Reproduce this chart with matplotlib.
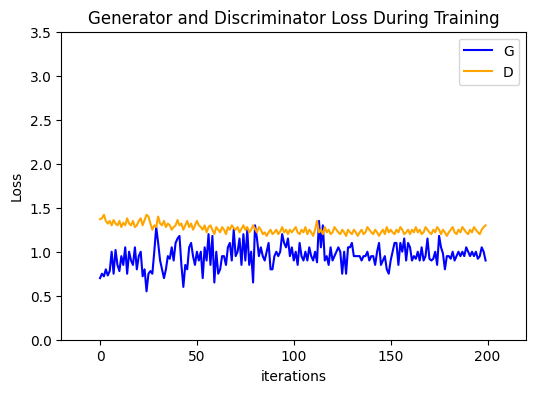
import matplotlib.pyplot as plt

# Generator loss per iteration
G_losses = [
    0.70, 0.75, 0.72, 0.80, 0.73, 0.78, 1.00, 0.75, 1.02, 0.85,
    0.78, 0.95, 0.85, 1.05, 0.75, 1.00, 0.90, 0.85, 1.05, 0.80,
    0.95, 1.00, 0.72, 0.80, 0.55, 0.75, 0.78, 0.75, 1.00, 1.28,
    1.10, 0.90, 0.80, 0.70, 0.80, 0.95, 0.92, 1.05, 0.90, 1.10,
    1.15, 1.18, 0.85, 0.60, 0.85, 0.80, 1.05, 1.10, 0.95, 0.85,
    1.00, 0.90, 1.00, 0.70, 1.05, 0.90, 1.20, 0.85, 1.18, 0.65,
    1.00, 0.75, 0.80, 0.95, 0.95, 0.85, 1.05, 1.10, 0.90, 1.25,
    0.95, 1.00, 1.15, 0.85, 1.20, 0.90, 1.25, 0.85, 1.00, 0.65,
    1.30, 1.15, 0.95, 1.05, 0.95, 0.90, 1.00, 1.10, 0.80, 0.80,
    0.95, 1.00, 0.95, 1.00, 1.20, 1.10, 1.05, 1.15, 0.95, 1.05,
    0.90, 1.00, 0.85, 1.10, 0.95, 0.90, 1.00, 0.90, 1.05, 0.95,
    0.90, 1.00, 0.88, 1.35, 1.05, 1.30, 0.90, 0.95, 0.85, 1.05,
    0.90, 0.95, 1.00, 1.05, 1.00, 0.75, 1.00, 0.75, 1.05, 1.05,
    1.10, 0.95, 0.95, 0.95, 0.95, 0.90, 0.95, 0.95, 1.00, 0.90,
    0.95, 0.95, 0.85, 1.00, 1.10, 0.85, 0.90, 0.95, 0.80, 0.75,
    0.90, 1.00, 1.10, 1.10, 0.85, 1.10, 1.00, 1.15, 0.90, 1.10,
    1.05, 0.90, 0.95, 0.92, 1.00, 0.90, 1.05, 0.90, 0.95, 1.15,
    0.92, 0.90, 0.92, 1.00, 0.85, 1.18, 1.05, 0.98, 0.80, 0.95,
    0.95, 0.92, 1.00, 0.90, 0.95, 1.00, 0.95, 1.00, 0.95, 1.05,
    1.00, 0.95, 1.00, 0.95, 1.00, 0.92, 0.95, 1.05, 1.00, 0.90,
]

# Discriminator loss per iteration
D_losses = [
    1.37, 1.38, 1.42, 1.35, 1.32, 1.35, 1.30, 1.36, 1.32, 1.30,
    1.35, 1.28, 1.33, 1.30, 1.38, 1.32, 1.30, 1.35, 1.28, 1.30,
    1.35, 1.38, 1.30, 1.36, 1.42, 1.40, 1.32, 1.25, 1.30, 1.28,
    1.40, 1.32, 1.30, 1.35, 1.28, 1.32, 1.30, 1.25, 1.28, 1.30,
    1.36, 1.30, 1.32, 1.25, 1.30, 1.35, 1.28, 1.32, 1.25, 1.30,
    1.35, 1.30, 1.28, 1.25, 1.30, 1.22, 1.28, 1.30, 1.25, 1.20,
    1.28, 1.25, 1.22, 1.28, 1.25, 1.20, 1.28, 1.25, 1.30, 1.27,
    1.25, 1.28, 1.22, 1.26, 1.30, 1.25, 1.28, 1.22, 1.25, 1.30,
    1.26, 1.22, 1.28, 1.25, 1.20, 1.22, 1.18, 1.22, 1.25, 1.20,
    1.22, 1.25, 1.20, 1.23, 1.28, 1.22, 1.25, 1.20, 1.25, 1.22,
    1.25, 1.28, 1.22, 1.20, 1.25, 1.22, 1.28, 1.20, 1.25, 1.22,
    1.18, 1.25, 1.35, 1.22, 1.25, 1.20, 1.28, 1.22, 1.25, 1.20,
    1.22, 1.28, 1.25, 1.22, 1.20, 1.25, 1.22, 1.18, 1.25, 1.22,
    1.20, 1.25, 1.22, 1.18, 1.22, 1.25, 1.20, 1.22, 1.28, 1.25,
    1.22, 1.20, 1.25, 1.22, 1.18, 1.22, 1.25, 1.20, 1.28, 1.22,
    1.25, 1.22, 1.20, 1.25, 1.22, 1.28, 1.25, 1.20, 1.22, 1.25,
    1.20, 1.25, 1.22, 1.28, 1.22, 1.25, 1.20, 1.22, 1.28, 1.25,
    1.22, 1.20, 1.25, 1.22, 1.28, 1.25, 1.20, 1.25, 1.22, 1.18,
    1.22, 1.25, 1.28, 1.22, 1.20, 1.25, 1.22, 1.28, 1.25, 1.22,
    1.20, 1.25, 1.22, 1.28, 1.25, 1.22, 1.20, 1.25, 1.28, 1.30,
]

fig = plt.figure(figsize=(6, 4))
plt.title("Generator and Discriminator Loss During Training")
plt.plot(G_losses, label="G", color="blue")
plt.plot(D_losses, label="D", color="orange")
plt.xlabel("iterations")
plt.ylabel("Loss")
plt.xlim(-20, 220)
plt.ylim(0, 3.5)
plt.legend()
plt.savefig("out.png", dpi=100, bbox_inches="tight")
